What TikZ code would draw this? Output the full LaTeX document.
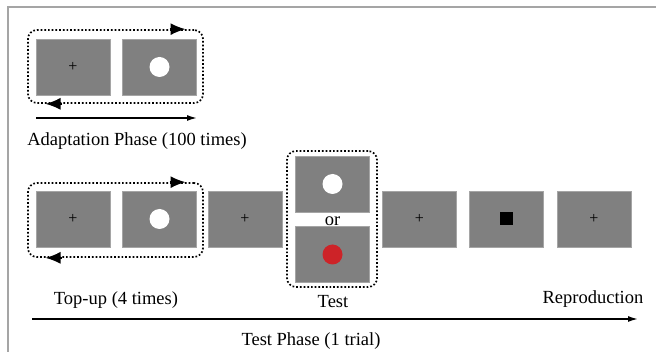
\documentclass[tikz,border=0pt]{standalone}
\usepackage{fontspec}
\setmainfont{Liberation Serif}
\usepackage{tikz}
\usetikzlibrary{positioning}
\usetikzlibrary{arrows.meta,shapes}
\definecolor{screengray}{RGB}{128,128,128}
\definecolor{edgegray}{RGB}{165,165,165}
\definecolor{stimred}{RGB}{205,35,40}
\tikzstyle{screen}=[rectangle,fill=screengray,draw=edgegray,line width=0.6pt,minimum width=74pt,minimum height=56pt,inner sep=0pt]
\tikzstyle{fixation}=[font=\fontsize{16}{16}\selectfont,inner sep=0pt]
\tikzstyle{disc}=[circle,minimum size=20pt,inner sep=0pt]
\tikzstyle{loopbox}=[draw,rounded corners=9pt,line width=1.7pt,dotted,inner sep=0pt]
\tikzstyle{looptip}=[-{Latex[length=15pt,width=12pt]},line width=1.5pt]
\tikzstyle{timeline} = [draw,line width=1.5pt,-{Latex[length=10pt,width=6pt]}]
\tikzstyle{label} = [font=\fontsize{18.5}{20}\selectfont,inner sep=0pt]

\begin{document}
\begin{tikzpicture}[x=1pt,y=-1pt]
  \useasboundingbox (0,0) rectangle (656,352);
  \draw[edgegray,line width=1.2pt] (8,352) -- (8,7) -- (656,7);

   % adaptation screens
   \foreach \pos/\name in {{(73,67)/a1}, {(159.5,67)/a2}}
        \node[screen] (\name) at \pos {};
   \node[fixation] (afix) at (a1) {+};
   \node[disc,fill=white] (adisc) at (a2) {};
   \node[loopbox,minimum width=175pt,minimum height=73pt] (aloop) at (115.5,66.5) {};
   \draw[looptip] (aloop.north) ++(54,0) -- ++(16,0);
   \draw[looptip] (aloop.south) ++(-54,0) -- ++(-16,0);

   \coordinate (astart) at (36,118);
   \coordinate (aend) at (197,118);
   \path[timeline] (astart) -- (aend);
   \node[label] (alabel) at (137,141) {Adaptation Phase (100 times)};

   % test phase screens
   \foreach \pos/\name in {{(73,219)/t1}, {(159.5,219)/t2}, {(245,219)/t3}, {(332.5,184)/t4}, {(332.5,254.5)/t5}, {(419.5,219)/t6}, {(506.5,219)/t7}, {(594,219)/t8}}
        \node[screen] (\name) at \pos {};
   \foreach \name in {t1, t3, t6, t8}
        \node[fixation] (\name fix) at (\name) {+};
   \node[disc,fill=white] (t2disc) at (t2) {};
   \node[disc,fill=white] (t4disc) at (t4) {};
   \node[disc,fill=stimred] (t5disc) at (t5) {};
   \node[rectangle,fill=black,minimum size=13pt,inner sep=0pt] (t7sq) at (t7) {};
   \node[label] (or) at (332.5,221) {or};

   \node[loopbox,minimum width=175pt,minimum height=74pt] (tloop) at (115.5,220) {};
   \draw[looptip] (tloop.north) ++(54,0) -- ++(16,0);
   \draw[looptip] (tloop.south) ++(-54,0) -- ++(-16,0);
   \node[loopbox,minimum width=90pt,minimum height=136pt] (testloop) at (332,219) {};

   \node[label] (toplabel) at (116,300) {Top-up (4 times)};
   \node[label] (testlabel) at (333,302) {Test};
   \node[label] (replabel) at (593,299) {Reproduction};

   \coordinate (tstart) at (32,319);
   \coordinate (tend) at (638,319);
   \path[timeline] (tstart) -- (tend);
   \node[label] (tlabel) at (311,341) {Test Phase (1 trial)};
\end{tikzpicture}
\end{document}
